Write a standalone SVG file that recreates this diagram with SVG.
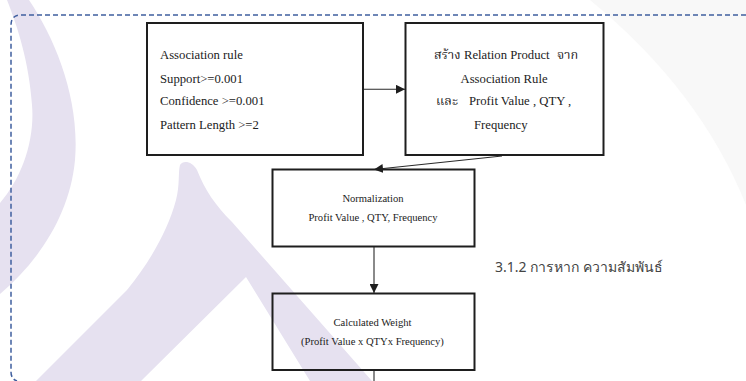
<svg xmlns="http://www.w3.org/2000/svg" width="746" height="381" viewBox="0 0 746 381">
<defs>
<style>
.wm{fill:#e6e1f0;stroke:none}
.box{fill:none;stroke:#1e1e1e;stroke-width:2}
.con{fill:none;stroke:#2a2a2a;stroke-width:1.1}
.t{font-family:"Liberation Serif","Times New Roman",serif;fill:#222}
.big{font-size:12.7px}
.small{font-size:10.6px}
.th{font-family:"Liberation Serif","Noto Serif Thai","Noto Sans Thai","DejaVu Sans",serif}
.cap{font-family:"Noto Sans","DejaVu Sans",sans-serif;font-size:14px;fill:#444}
</style>
<marker id="arr" markerUnits="userSpaceOnUse" markerWidth="9" markerHeight="9" refX="9" refY="4.5" orient="auto">
<path d="M0,0 L9,4.5 L0,9 Z" fill="#1e1e1e"/>
</marker>
</defs>
<rect width="746" height="381" fill="#ffffff"/>
<g id="background">
<path d="M590,0 L746,0 L746,205 Q700,90 590,0 Z" fill="#f8f8f8"/>
<path class="wm" d="M7,0 L29,0 C56,40 80,100 75,160 C70,215 38,262 0,294 L0,203 C22,178 35,140 32,105 C29,62 18,28 7,0 Z"/>
<path class="wm" d="M36,381 L127,290 C150,262 168,230 176,200 C180,185 178,172 180,165 C183,160 192,161 197,170 C205,190 215,205 232,222 L372,381 L310,381 L246,277 L141,381 Z"/>
</g>
<g id="frame">
<path d="M746,15 H21 Q11,15 11,25 V372 Q11,379 17,381" fill="none" stroke="#3f5f9f" stroke-width="1.5" stroke-dasharray="5,3"/>
</g>
<g id="connectors">
<line class="con" x1="364" y1="89.3" x2="405" y2="89.3" marker-end="url(#arr)"/>
<line class="con" x1="502" y1="156" x2="374" y2="169.5" marker-end="url(#arr)"/>
<line class="con" x1="374" y1="247" x2="374" y2="293" marker-end="url(#arr)"/>
<line class="con" x1="374" y1="370" x2="374" y2="381"/>
</g>
<g id="node-association">
<rect class="box" x="147" y="23" width="216" height="132"/>
<text class="t big" x="160" y="58.5">Association rule</text>
<text class="t big" x="160" y="82.5">Support&gt;=0.001</text>
<text class="t big" x="160" y="105">Confidence &gt;=0.001</text>
<text class="t big" x="160" y="128.5">Pattern Length &gt;=2</text>
</g>
<g id="node-relation">
<rect class="box" x="405.5" y="23" width="198" height="132"/>
<text class="t big th" y="58.5"><tspan x="434">สร้าง</tspan><tspan x="464">Relation Product</tspan><tspan x="557">จาก</tspan></text>
<text class="t big" x="460.5" y="82.5">Association Rule</text>
<text class="t big th" y="105"><tspan x="436">และ</tspan><tspan x="469">Profit Value , QTY ,</tspan></text>
<text class="t big" x="474" y="128.5">Frequency</text>
</g>
<g id="node-normalization">
<rect class="box" x="272.5" y="169.5" width="202" height="77"/>
<text class="t small" x="373" y="201.5" text-anchor="middle">Normalization</text>
<text class="t small" x="373" y="220.5" text-anchor="middle">Profit Value , QTY, Frequency</text>
</g>
<g id="node-weight">
<rect class="box" x="272.5" y="293.5" width="202" height="76.5"/>
<text class="t small" x="372.5" y="326" text-anchor="middle">Calculated Weight</text>
<text class="t small" x="372.5" y="345" text-anchor="middle">(Profit Value x QTYx Frequency)</text>
</g>
<g id="caption">
<text class="cap" x="495" y="272">3.1.2 การหาก ความสัมพันธ์</text>
</g>
</svg>
